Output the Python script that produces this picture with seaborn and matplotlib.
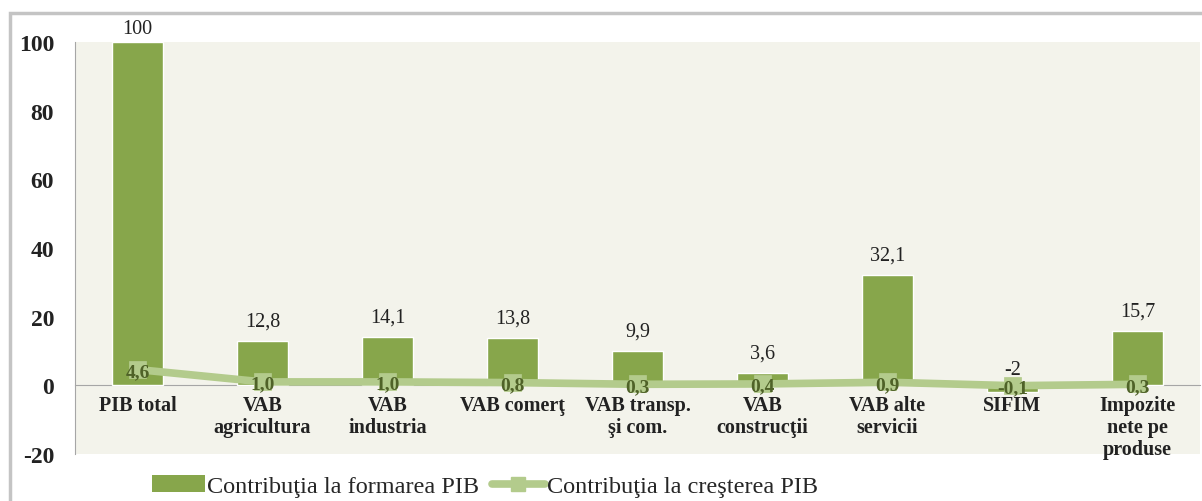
import matplotlib
matplotlib.use('Agg')
import matplotlib.pyplot as plt
from matplotlib.patches import Rectangle, Patch
from matplotlib.lines import Line2D
import seaborn as sns

categories = ['PIB total', 'VAB\nagricultura', 'VAB\nindustria', 'VAB comerţ',
              'VAB transp.\nşi com.', 'VAB\nconstrucţii', 'VAB alte\nservicii',
              'SIFIM', 'Impozite\nnete pe\nproduse']
formare = [100, 12.8, 14.1, 13.8, 9.9, 3.6, 32.1, -2, 15.7]
crestere = [4.6, 1.0, 1.0, 0.8, 0.3, 0.4, 0.9, -0.1, 0.3]
formare_labels = ['100', '12,8', '14,1', '13,8', '9,9', '3,6', '32,1', '-2', '15,7']
crestere_labels = ['4,6', '1,0', '1,0', '0,8', '0,3', '0,4', '0,9', '-0,1', '0,3']
legend_names = ['Contribuţia la formarea PIB', 'Contribuţia la creşterea PIB']

bar_color = '#87a64b'
line_color = '#b3cb8c'
label_green = '#4f6228'
text_color = '#222222'

sns.set_style('white')
plt.rcParams['font.family'] = ['Liberation Serif', 'DejaVu Serif']

fig = plt.figure(figsize=(12.02, 5.02), dpi=100)
ax = fig.add_axes([75 / 1202, 1 - 455 / 502, 1125 / 1202, 412 / 502])
ax.set_facecolor('#f3f3eb')

# outer chart border
fig.patches.append(Rectangle((10 / 1202, -0.1), 1.2, 1 - 14 / 502 + 0.1,
                             transform=fig.transFigure, fill=False,
                             edgecolor='#c4c4c4', linewidth=2.5, zorder=0))

sns.barplot(x=categories, y=formare, color=bar_color, width=0.41,
            saturation=1, ax=ax, zorder=2)
sns.pointplot(x=categories, y=crestere, color=line_color, markers='s',
              markersize=9, linewidth=5.5, ax=ax, zorder=3)

ymax = 100
for i, (v, lab) in enumerate(zip(formare, formare_labels)):
    if v >= ymax:
        off = 13
    elif v > 0:
        off = 20
    else:
        off = 16
    ax.annotate(lab, (i, max(v, 0)), xytext=(0, off), textcoords='offset pixels',
                ha='center', va='center', fontsize=14.5, color=text_color,
                annotation_clip=False, zorder=5)

for i, (v, lab) in enumerate(zip(crestere, crestere_labels)):
    ax.annotate(lab, (i, v), xytext=(0, -2), textcoords='offset pixels',
                ha='center', va='center', fontsize=14, color=label_green,
                fontweight='bold', zorder=6)

ax.set_ylim(-20, ymax)
ax.set_xlim(-0.5, len(categories) - 0.5)
ax.set_yticks(range(-20, 101, 20))
ax.set_yticklabels([str(t) for t in range(-20, 101, 20)], fontsize=17,
                   fontweight='bold', color=text_color)

for s in ['top', 'right']:
    ax.spines[s].set_visible(False)
ax.spines['bottom'].set_position(('data', 0))
ax.spines['bottom'].set_color('#a6a6a6')
ax.spines['left'].set_color('#a6a6a6')
ax.spines['bottom'].set_zorder(1)

ax.tick_params(axis='y', direction='out', length=6, color='#a6a6a6', pad=9)
ax.tick_params(axis='x', which='major', length=0, pad=7, labelsize=14.5,
               labelcolor=text_color)
ax.set_xticks([i + 0.5 for i in range(len(categories) - 1)], minor=True)
ax.tick_params(axis='x', which='minor', direction='out', length=6,
               color='#a6a6a6')
for t in ax.get_xticklabels():
    t.set_fontweight('bold')
    t.set_linespacing(1.12)
    t.set_verticalalignment('top')

handles = [Patch(facecolor=bar_color, edgecolor='none'),
           Line2D([], [], color=line_color, linewidth=5.5, marker='s',
                  markersize=10)]
fig.legend(handles, legend_names, loc='center', ncol=2,
           bbox_to_anchor=(485 / 1202, 1 - 487 / 502), frameon=False,
           fontsize=17.5, handlelength=2.2, handletextpad=0.1,
           columnspacing=0.5, borderaxespad=0)

fig.savefig('out.png', dpi=100)
